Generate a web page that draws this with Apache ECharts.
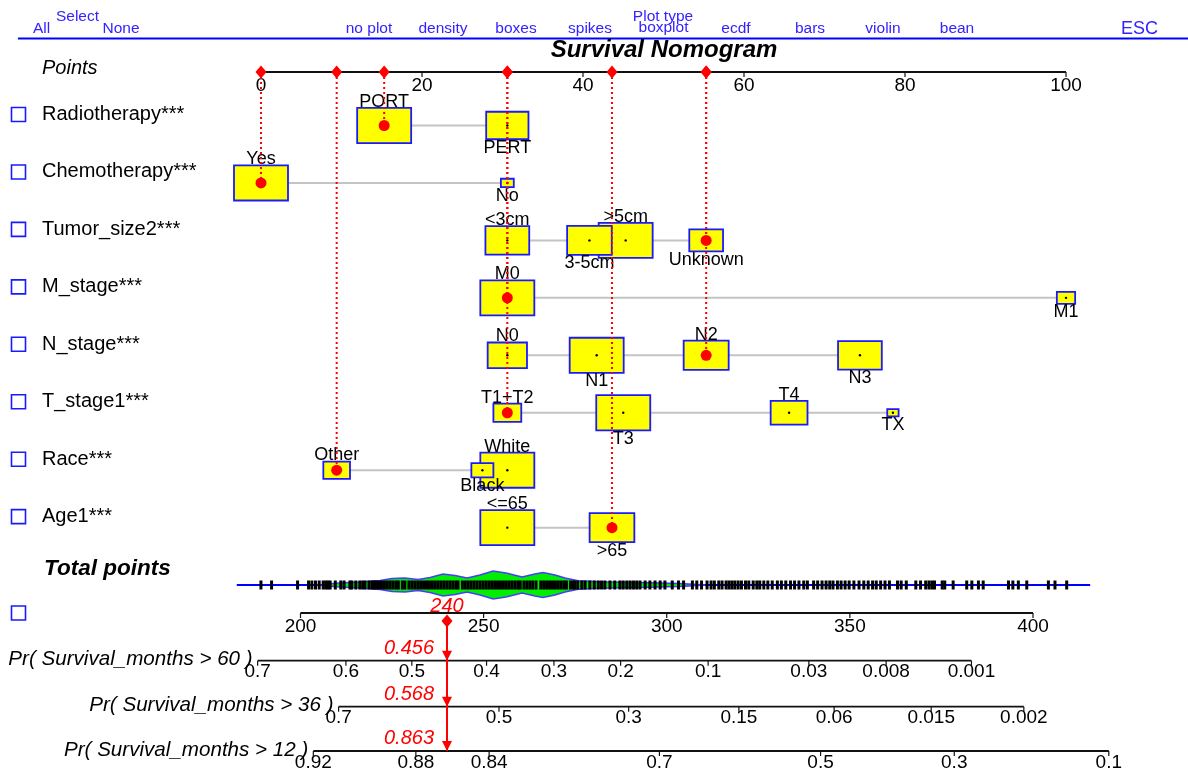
<!DOCTYPE html>
<html>
<head>
<meta charset="utf-8">
<title>Survival Nomogram</title>
<script src="https://cdn.jsdelivr.net/npm/echarts@6/dist/echarts.min.js"></script>
<style>
  html, body { margin: 0; padding: 0; background: #ffffff; }
  #chart { width: 1188px; height: 774px; }
</style>
</head>
<body>
<div id="chart"></div>
<script>
// ---------------- Model data ----------------
const variableNames = ['Radiotherapy***', 'Chemotherapy***', 'Tumor_size2***', 'M_stage***',
                       'N_stage***', 'T_stage1***', 'Race***', 'Age1***'];

const radiotherapyLevels = ['PORT', 'PERT'];
const radiotherapyPoints = [15.3, 30.6];
const radiotherapyShare  = [0.62, 0.38];

const chemotherapyLevels = ['Yes', 'No'];
const chemotherapyPoints = [0, 30.6];
const chemotherapyShare  = [0.946, 0.054];

const tumorSizeLevels = ['<3cm', '3-5cm', '>5cm', 'Unknown'];
const tumorSizePoints = [30.6, 40.8, 45.3, 55.3];
const tumorSizeShare  = [0.241, 0.250, 0.366, 0.143];

const mStageLevels = ['M0', 'M1'];
const mStagePoints = [30.6, 100];
const mStageShare  = [0.897, 0.103];

const nStageLevels = ['N0', 'N1', 'N2', 'N3'];
const nStagePoints = [30.6, 41.7, 55.3, 74.4];
const nStageShare  = [0.184, 0.347, 0.241, 0.228];

const tStageLevels = ['T1+T2', 'T3', 'T4', 'TX'];
const tStagePoints = [30.6, 45.0, 65.6, 78.5];
const tStageShare  = [0.150, 0.563, 0.262, 0.025];

const raceLevels = ['White', 'Black', 'Other'];
const racePoints = [30.6, 27.5, 9.4];
const raceShare  = [0.709, 0.118, 0.173];

const ageLevels = ['<=65', '>65'];
const agePoints = [30.6, 43.6];
const ageShare  = [0.593, 0.407];

// patient profile shown in red
const selectedLevels = ['PORT', 'Yes', 'Unknown', 'M0', 'N2', 'T1+T2', 'Other', '>65'];
const totalScore = 240;

// scales
const pointsTicks = [0, 20, 40, 60, 80, 100];
const totalTicks  = [200, 250, 300, 350, 400];

const outcomeTitles = ['Pr( Survival_months > 60 )', 'Pr( Survival_months > 36 )', 'Pr( Survival_months > 12 )'];
const outcomeValues = ['0.456', '0.568', '0.863'];

const pr60Labels = ['0.7', '0.6', '0.5', '0.4', '0.3', '0.2', '0.1', '0.03', '0.008', '0.001'];
const pr60At     = [188.3, 212.4, 230.4, 250.8, 269.2, 287.4, 311.3, 338.8, 359.9, 383.2];
const pr36Labels = ['0.7', '0.5', '0.3', '0.15', '0.06', '0.015', '0.002'];
const pr36At     = [210.4, 254.2, 289.6, 319.7, 345.7, 372.2, 397.5];
const pr12Labels = ['0.92', '0.88', '0.84', '0.7', '0.5', '0.3', '0.1'];
const pr12At     = [203.5, 231.5, 251.5, 298.0, 342.0, 378.5, 420.7];

// distribution of total points in the cohort
const densityAt    = [205.3, 209.4, 216.2, 221.7, 225.0, 228.5, 232.1, 235.4, 238.9, 242.2, 245.5, 249.0,
                      252.6, 256.1, 260.5, 264.0, 266.2, 269.5, 272.2, 275.8, 281.8, 288.6, 295.4, 303.6, 310.5];
const densityValue = [0, 0.13, 0.21, 0.33, 0.46, 0.50, 0.39, 0.54, 0.79, 0.68, 0.50, 0.71,
                      1.00, 0.86, 0.57, 0.79, 0.89, 0.71, 0.50, 0.30, 0.23, 0.20, 0.16, 0.10, 0];
const rugRange = [182.6, 415.6];
const rugAt = [
  189.2, 192.1, 199.2, 202.2, 203.1, 204.1, 205.1, 206.2, 206.9, 207.5, 208.1, 209.5,
  211.0, 211.9, 213.5, 214.0, 215.1, 216.2, 217.0, 217.6, 218.7, 219.5, 220.0, 220.6,
  221.3, 222.1, 222.9, 223.7, 224.5, 225.3, 226.1, 226.7, 227.8, 228.5, 229.6, 230.4,
  231.2, 232.0, 232.8, 233.6, 234.4, 235.2, 236.0, 236.8, 237.6, 238.4, 239.2, 240.0,
  240.8, 241.6, 242.4, 243.0, 244.2, 245.0, 245.8, 246.6, 247.4, 248.2, 249.0, 249.8,
  250.6, 251.4, 252.2, 253.0, 253.8, 254.6, 255.4, 256.2, 257.0, 257.8, 258.6, 259.4,
  260.0, 261.0, 261.8, 262.6, 263.4, 264.3, 265.6, 266.4, 267.2, 268.0, 268.8, 269.6,
  270.4, 271.2, 272.0, 272.6, 273.7, 274.4, 274.9, 275.7,
  276.8, 277.7, 279.0, 280.2, 281.3, 282.2, 283.1, 284.5, 285.8, 287.2, 288.1, 289.1,
  290.0, 290.9, 291.8, 292.7, 294.1, 295.4, 296.8, 298.2, 299.5,
  301.5, 303.2, 304.6, 307.0, 308.2, 309.5, 311.0, 312.1, 313.0, 314.2, 315.1, 316.2,
  317.0, 317.8, 318.6, 319.5, 320.4, 321.5, 322.4, 323.6, 324.6, 325.4, 326.5, 327.6,
  328.8, 330.2, 331.3, 332.5, 333.8, 334.9, 336.1, 337.4, 338.4, 340.1, 341.2, 342.4,
  343.5, 344.5, 345.4, 346.6, 347.6, 348.7, 349.8, 351.1, 352.5, 353.8, 355.0, 356.2,
  357.2, 358.4, 359.6, 360.8, 363.0, 364.0, 365.4, 368.0, 369.3, 370.7, 371.6, 372.4,
  373.1, 375.2, 375.9, 378.2, 381.9, 383.3, 385.1, 386.4, 393.3, 394.5, 396.0, 398.3,
  404.2, 406.0, 409.2
];

// ---------------- Layout ----------------
const LAYOUT = {
  width: 1188, height: 774,
  pointsPx: [261, 1066],      // pixel x of 0 and 100 points
  totalPx: [300.5, 1033],     // pixel x of 200 and 400 total points
  pointsAxisY: 72,
  firstRowY: 125.5, rowStep: 57.45,
  densityY: 585, totalAxisY: 613, totalCheckY: 613,
  outcomeAxisY: [660.7, 706.7, 751],
  maxBox: 54, boxAspect: 0.65, maxDensity: 14, rugHalf: 4.5,
  nameX: 42
};
const FONT = '"Liberation Sans", Arial, Helvetica, sans-serif';
const font = (size, style) => (style ? style + ' ' : '') + size + 'px ' + FONT;
const rowY = i => LAYOUT.firstRowY + i * LAYOUT.rowStep;
const MENU_BLUE = '#3322ff';
const BOX_BLUE = '#1a1aff';

const ptsPerPx = 100 / (LAYOUT.pointsPx[1] - LAYOUT.pointsPx[0]);
const totPerPx = 200 / (LAYOUT.totalPx[1] - LAYOUT.totalPx[0]);
const pointsAxisRange = [0 - LAYOUT.pointsPx[0] * ptsPerPx, 100 + (LAYOUT.width - LAYOUT.pointsPx[1]) * ptsPerPx];
const totalAxisRange = [200 - LAYOUT.totalPx[0] * totPerPx, 400 + (LAYOUT.width - LAYOUT.totalPx[1]) * totPerPx];

// ---------------- Derived records ----------------
const variables = [
  [radiotherapyLevels, radiotherapyPoints, radiotherapyShare],
  [chemotherapyLevels, chemotherapyPoints, chemotherapyShare],
  [tumorSizeLevels, tumorSizePoints, tumorSizeShare],
  [mStageLevels, mStagePoints, mStageShare],
  [nStageLevels, nStagePoints, nStageShare],
  [tStageLevels, tStagePoints, tStageShare],
  [raceLevels, racePoints, raceShare],
  [ageLevels, agePoints, ageShare]
].map(([levels, points, share], i) => ({ name: variableNames[i], levels, points, share }));

const levelRecords = [];
variables.forEach((v, vi) => {
  const maxShare = Math.max(...v.share);
  const order = v.points.map((p, i) => i).sort((a, b) => v.points[a] - v.points[b]);
  const side = {};
  order.forEach((li, k) => { side[li] = k % 2 === 0 ? 'above' : 'below'; });
  v.levels.forEach((lv, li) => levelRecords.push({
    row: vi, level: lv, points: v.points[li], rel: v.share[li] / maxShare,
    side: side[li], selected: selectedLevels[vi] === lv
  }));
});
// larger boxes first so the smaller ones stay visible on top
levelRecords.sort((a, b) => b.rel - a.rel);
const selectedRecords = levelRecords.filter(r => r.selected);

const boxSize = r => {
  const w = LAYOUT.maxBox * Math.sqrt(r.rel);
  return [w, w * LAYOUT.boxAspect];
};

// ---------------- Series ----------------
const series = [];

// grey connector for each predictor row
series.push({
  type: 'custom', xAxisIndex: 0, yAxisIndex: 0, silent: true, clip: false, z: 1,
  data: variables.map((v, i) => [Math.min(...v.points), rowY(i), Math.max(...v.points)]),
  renderItem(params, api) {
    const a = api.coord([api.value(0), api.value(1)]);
    const b = api.coord([api.value(2), api.value(1)]);
    return { type: 'line', shape: { x1: a[0], y1: a[1], x2: b[0], y2: b[1] },
             style: { stroke: '#c4c4c4', lineWidth: 2 } };
  }
});

// frequency boxes
series.push({
  type: 'custom', xAxisIndex: 0, yAxisIndex: 0, silent: true, clip: false, z: 2,
  data: levelRecords.map(r => [r.points, rowY(r.row)]),
  renderItem(params, api) {
    const r = levelRecords[params.dataIndex];
    const c = api.coord([r.points, rowY(r.row)]);
    const [w, h] = boxSize(r);
    const kids = [{ type: 'rect', shape: { x: c[0] - w / 2, y: c[1] - h / 2, width: w, height: h },
                    style: { fill: '#ffff00', stroke: BOX_BLUE, lineWidth: 1.8 } }];
    if (!r.selected) kids.push({ type: 'circle', shape: { cx: c[0], cy: c[1], r: 1.2 }, style: { fill: '#000' } });
    return { type: 'group', children: kids };
  }
});

// level names, alternating above and below the boxes
series.push({
  type: 'custom', xAxisIndex: 0, yAxisIndex: 0, silent: true, clip: false, z: 3,
  data: levelRecords.map(r => [r.points, rowY(r.row)]),
  renderItem(params, api) {
    const r = levelRecords[params.dataIndex];
    const c = api.coord([r.points, rowY(r.row)]);
    const h = boxSize(r)[1];
    const y = r.side === 'above' ? c[1] - h / 2 - 6 : c[1] + h / 2 + 8.5;
    return { type: 'text', x: c[0], y,
             style: { text: r.level, font: font(18), fill: '#000', align: 'center', verticalAlign: 'middle' } };
  }
});

// axis helper: baseline, ticks and labels
function scaleSeries(xAxisIndex, axisY, at, labels, labelGap, z) {
  return {
    type: 'custom', xAxisIndex, yAxisIndex: 0, silent: true, clip: false, z: z || 4,
    data: at.map(v => [v, axisY]),
    renderItem(params, api) {
      const i = params.dataIndex;
      const c = api.coord([at[i], axisY]);
      const kids = [];
      if (i === 0) {
        const a = api.coord([at[0], axisY]);
        const b = api.coord([at[at.length - 1], axisY]);
        kids.push({ type: 'line', shape: { x1: a[0], y1: a[1], x2: b[0], y2: b[1] },
                    style: { stroke: '#111', lineWidth: 1.8 } });
      }
      kids.push({ type: 'line', shape: { x1: c[0], y1: c[1], x2: c[0], y2: c[1] + 5 },
                  style: { stroke: '#111', lineWidth: 1.2 } });
      kids.push({ type: 'text', x: c[0], y: c[1] + labelGap,
                  style: { text: labels[i], font: font(19), fill: '#000', align: 'center', verticalAlign: 'middle' } });
      return { type: 'group', children: kids };
    }
  };
}

series.push(scaleSeries(0, LAYOUT.pointsAxisY, pointsTicks, pointsTicks.map(String), 13.5));
series.push(scaleSeries(1, LAYOUT.totalAxisY, totalTicks, totalTicks.map(String), 14));

const outcomes = [
  { title: outcomeTitles[0], value: outcomeValues[0], at: pr60At, labels: pr60Labels, y: LAYOUT.outcomeAxisY[0] },
  { title: outcomeTitles[1], value: outcomeValues[1], at: pr36At, labels: pr36Labels, y: LAYOUT.outcomeAxisY[1] },
  { title: outcomeTitles[2], value: outcomeValues[2], at: pr12At, labels: pr12Labels, y: LAYOUT.outcomeAxisY[2] }
];
outcomes.forEach(o => series.push(scaleSeries(1, o.y, o.at, o.labels, 11.5)));

// outcome titles, right-aligned to the start of each probability scale
series.push({
  type: 'custom', xAxisIndex: 1, yAxisIndex: 0, silent: true, clip: false, z: 4,
  data: outcomes.map(o => [o.at[0], o.y]),
  renderItem(params, api) {
    const o = outcomes[params.dataIndex];
    const c = api.coord([o.at[0], o.y]);
    return { type: 'text', x: c[0] - 5, y: c[1] - 1,
             style: { text: o.title, font: font(20.6, 'italic'), fill: '#000', align: 'right', verticalAlign: 'middle' } };
  }
});

// cohort distribution of total points: baseline, density outline, rug
series.push({
  type: 'custom', xAxisIndex: 1, yAxisIndex: 0, silent: true, clip: false, z: 2,
  data: [[rugRange[0], LAYOUT.densityY, rugRange[1]]],
  renderItem(params, api) {
    const a = api.coord([rugRange[0], LAYOUT.densityY]);
    const b = api.coord([rugRange[1], LAYOUT.densityY]);
    const upper = densityAt.map((t, i) => {
      const c = api.coord([t, LAYOUT.densityY]);
      return [c[0], c[1] - densityValue[i] * LAYOUT.maxDensity];
    });
    const lower = densityAt.map((t, i) => {
      const c = api.coord([t, LAYOUT.densityY]);
      return [c[0], c[1] + densityValue[i] * LAYOUT.maxDensity];
    }).reverse();
    return { type: 'group', children: [
      { type: 'line', shape: { x1: a[0], y1: a[1], x2: b[0], y2: b[1] }, style: { stroke: '#0000ff', lineWidth: 2 } },
      { type: 'polygon', shape: { points: upper.concat(lower) },
        style: { fill: '#00ee00', stroke: '#4a3cff', lineWidth: 1.5 } }
    ] };
  }
});
series.push({
  type: 'custom', xAxisIndex: 1, yAxisIndex: 0, silent: true, clip: false, z: 3,
  data: rugAt.map(t => [t, LAYOUT.densityY]),
  renderItem(params, api) {
    const c = api.coord([rugAt[params.dataIndex], LAYOUT.densityY]);
    return { type: 'line', shape: { x1: c[0], y1: c[1] - LAYOUT.rugHalf, x2: c[0], y2: c[1] + LAYOUT.rugHalf },
             style: { stroke: '#000', lineWidth: 3 } };
  }
});

// selected profile: dotted drop lines, axis diamonds, row dots
const diamond = (x, y, r) => [[x, y - r], [x + r * 0.85, y], [x, y + r], [x - r * 0.85, y]];
series.push({
  type: 'custom', xAxisIndex: 0, yAxisIndex: 0, silent: true, clip: false, z: 6,
  data: selectedRecords.map(r => [r.points, rowY(r.row)]),
  renderItem(params, api) {
    const r = selectedRecords[params.dataIndex];
    const top = api.coord([r.points, LAYOUT.pointsAxisY]);
    const c = api.coord([r.points, rowY(r.row)]);
    return { type: 'group', children: [
      { type: 'line', shape: { x1: top[0], y1: top[1], x2: c[0], y2: c[1] },
        style: { stroke: '#ff0000', lineWidth: 2, lineDash: [2, 3] } },
      { type: 'polygon', shape: { points: diamond(top[0], top[1], 6.5) }, style: { fill: '#ff0000' } },
      { type: 'circle', shape: { cx: c[0], cy: c[1], r: 5.5 }, style: { fill: '#ff0000' } }
    ] };
  }
});

// selected total points and predicted probabilities
series.push({
  type: 'custom', xAxisIndex: 1, yAxisIndex: 0, silent: true, clip: false, z: 6,
  data: [[totalScore, LAYOUT.totalAxisY]],
  renderItem(params, api) {
    const start = api.coord([totalScore, LAYOUT.totalAxisY + 8]);
    const end = api.coord([totalScore, LAYOUT.outcomeAxisY[2]]);
    const kids = [
      { type: 'line', shape: { x1: start[0], y1: start[1], x2: end[0], y2: end[1] },
        style: { stroke: '#ff0000', lineWidth: 2 } },
      { type: 'polygon', shape: { points: diamond(start[0], start[1], 6.5) }, style: { fill: '#ff0000' } },
      { type: 'text', x: start[0], y: LAYOUT.totalAxisY - 7,
        style: { text: String(totalScore), font: font(20, 'italic'), fill: '#ff0000', align: 'center', verticalAlign: 'middle' } }
    ];
    outcomes.forEach(o => {
      const p = api.coord([totalScore, o.y]);
      kids.push({ type: 'polygon', shape: { points: [[p[0] - 5, p[1] - 10], [p[0] + 5, p[1] - 10], [p[0], p[1]]] },
                  style: { fill: '#ff0000' } });
      kids.push({ type: 'text', x: p[0] - 13, y: p[1] - 12.5,
                  style: { text: o.value, font: font(20, 'italic'), fill: '#ff0000', align: 'right', verticalAlign: 'middle' } });
    });
    return { type: 'group', children: kids };
  }
});

// ---------------- Static decorations ----------------
const graphics = [];
const menuText = (text, x, y, size) => graphics.push({
  type: 'text', x, y, silent: true,
  style: { text, font: font(size || 15.5), fill: MENU_BLUE, align: 'center', verticalAlign: 'middle' }
});
menuText('All', 41.5, 29);
menuText('Select', 77.5, 17);
menuText('None', 121, 29);
[['no plot', 369], ['density', 443], ['boxes', 516], ['spikes', 590], ['ecdf', 736], ['bars', 810], ['violin', 883], ['bean', 957]]
  .forEach(([t, x]) => menuText(t, x, 28.5));
menuText('Plot type', 663, 16.5);
menuText('boxplot', 663.5, 27.5);
graphics.push({ type: 'text', x: 1139.5, y: 29, silent: true,
  style: { text: 'ESC', font: font(18), fill: MENU_BLUE, align: 'center', verticalAlign: 'middle' } });
graphics.push({ type: 'line', silent: true, shape: { x1: 18, y1: 38.5, x2: 1188, y2: 38.5 },
  style: { stroke: '#0000ff', lineWidth: 2 } });

graphics.push({ type: 'text', x: 664, y: 50, silent: true,
  style: { text: 'Survival Nomogram', font: font(24, 'italic bold'), fill: '#000', align: 'center', verticalAlign: 'middle' } });
graphics.push({ type: 'text', x: LAYOUT.nameX, y: 68, silent: true,
  style: { text: 'Points', font: font(20, 'italic'), fill: '#000', align: 'left', verticalAlign: 'middle' } });
graphics.push({ type: 'text', x: LAYOUT.nameX + 2, y: 569, silent: true,
  style: { text: 'Total points', font: font(22.5, 'italic bold'), fill: '#000', align: 'left', verticalAlign: 'middle' } });

const checkbox = cy => graphics.push({ type: 'rect', silent: true,
  shape: { x: 11.5, y: cy - 7, width: 14, height: 14 },
  style: { fill: 'none', stroke: '#1a1aff', lineWidth: 1.6 } });

variables.forEach((v, i) => {
  const y = rowY(i) - 11;
  checkbox(y);
  graphics.push({ type: 'text', x: LAYOUT.nameX, y, silent: true,
    style: { text: v.name, font: font(20), fill: '#000', align: 'left', verticalAlign: 'middle' } });
});
checkbox(LAYOUT.totalCheckY);

// ---------------- Chart ----------------
const chart = echarts.init(document.getElementById('chart'), null, { renderer: 'canvas' });
chart.setOption({
  animation: false,
  backgroundColor: '#ffffff',
  grid: { left: 0, right: 0, top: 0, bottom: 0, containLabel: false, outerBoundsMode: 'none' },
  xAxis: [
    { type: 'value', min: pointsAxisRange[0], max: pointsAxisRange[1], show: false },
    { type: 'value', min: totalAxisRange[0], max: totalAxisRange[1], show: false }
  ],
  yAxis: { type: 'value', min: 0, max: LAYOUT.height, inverse: true, show: false },
  graphic: { elements: graphics },
  series
});
</script>
</body>
</html>
